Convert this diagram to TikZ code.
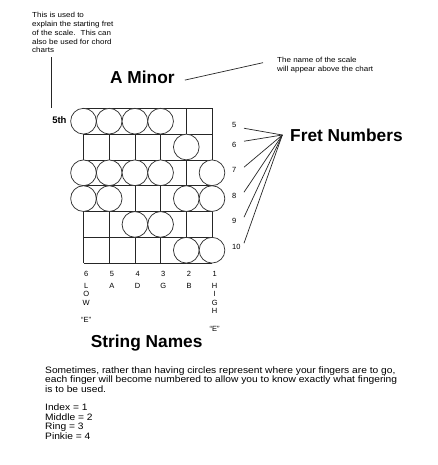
\documentclass[tikz,border=0pt]{standalone}
\usepackage{fontspec}
\setmainfont{Liberation Sans}
\newfontfamily\widefont[FakeStretch=1.1]{Liberation Sans}
\usetikzlibrary{calc}
\begin{document}
\begin{tikzpicture}[x=1pt,y=-1pt,
  gridline/.style={line width=0.75pt, draw=black!85},
  dot/.style={circle, draw=black!80, line width=0.75pt, fill=white, minimum size=25.7pt, inner sep=0pt},
  heading/.style={font=\fontsize{17.3}{20}\selectfont\bfseries, inner sep=0pt, anchor=base west},
  small/.style={font=\fontsize{7.5}{8}\selectfont, inner sep=0pt, anchor=base},
  note/.style={font=\widefont\fontsize{7.3}{8.75}\selectfont, align=left, inner sep=0pt, anchor=north west},
  body/.style={font=\widefont\fontsize{9.3}{9.4}\selectfont, align=left, inner sep=0pt, anchor=north west},
  leader/.style={line width=0.7pt, draw=black!85}]
\useasboundingbox[fill=white] (0,0) rectangle (438,465);

\def\xa{83.5}\def\dx{25.7}\def\ya{108.3}\def\dy{25.8}
% grid
\foreach \i in {0,...,5} \draw[gridline] ({\xa+\i*\dx},\ya) -- ({\xa+\i*\dx},{\ya+6*\dy});
\foreach \j in {0,...,6} \draw[gridline] (\xa,{\ya+\j*\dy}) -- ({\xa+5*\dx},{\ya+\j*\dy});
% circles
\foreach \i/\j in {0/1,1/1,2/1,3/1, 4/2, 0/3,1/3,2/3,3/3,5/3, 0/4,1/4,4/4,5/4, 2/5,3/5, 4/6,5/6}
  \node[dot] (c\i\j) at ({\xa+\i*\dx},{\ya+(\j-0.5)*\dy}) {};

% 5th
\node[font=\fontsize{9.5}{10}\selectfont\bfseries, inner sep=0pt, anchor=base east] (fifth) at (66.7,123.3) {5th};

% top-left note
\node[note] (startnote) at (32,12.3) {This is used to\\explain the starting fret\\of the scale.~ This can\\also be used for chord\\charts};
\coordinate (vx) at (51,0);
\draw[leader] ($(startnote.south -| vx)+(0,4)$) -- ($(fifth.north -| vx)+(0,-8.7)$);

% title
\node[heading] (title) at (110,83.3) {A Minor};
\node[note] (scalenote) at (277,57.3) {The name of the scale\\will appear above the chart};
\draw[leader] ($(title.east)+(10,3)$) -- ($(scalenote.west)+(-14,-2.6)$);

% fret numbers
\foreach \n/\yy in {5/127.8,6/147.8,7/172.8,8/198.8,9/223.8,10/249.8}
  \node[small, anchor=base west] (f\n) at (232,\yy) {\n};
\node[heading] (fretnum) at (290,141.7) {Fret Numbers};
\coordinate (hub) at (282.3,135);
\coordinate (sx) at (244,0);
\foreach \n/\dd in {5/3,6/-4,7/-3,8/-4,9/-4,10/-4}
  \draw[leader] ($(f\n -| sx)+(0,\dd)$) -- (hub);

% string labels
\foreach \n [count=\k from 0] in {6,5,4,3,2,1}
  \node[small] (s\n) at ({\xa+\k*\dx+2.7},276.7) {\n};
\foreach \ch [count=\k] in {L,O,W}
  \node[small] (low\k) at ({\xa+2.7},{288+(\k-1)*8.6}) {\ch};
\node[small] (lowE) at ({\xa+2.7},{288+4*8.6}) {“E”};
\node[small] (nA) at ({\xa+1*\dx+2.7},288) {A};
\node[small] (nD) at ({\xa+2*\dx+2.7},288) {D};
\node[small] (nG) at ({\xa+3*\dx+2.7},288) {G};
\node[small] (nB) at ({\xa+4*\dx+2.7},288) {B};
\foreach \ch [count=\k] in {H,I,G,H}
  \node[small] (high\k) at ({\xa+5*\dx+2.7},{288+(\k-1)*8.6}) {\ch};
\node[small] (highE) at ({\xa+5*\dx+2.7},{288+5*8.6}) {“E”};

\node[heading] (strnames) at (90.7,347.3) {String Names};

% bottom text
\node[body] (bodytext) at (45,366.3) {Sometimes, rather than having circles represent where your fingers are to go,\\
each finger will become numbered to allow you to know exactly what fingering\\
is to be used.\\[9.4pt]
Index = 1\\
Middle = 2\\
Ring = 3\\
Pinkie = 4};
\end{tikzpicture}
\end{document}
